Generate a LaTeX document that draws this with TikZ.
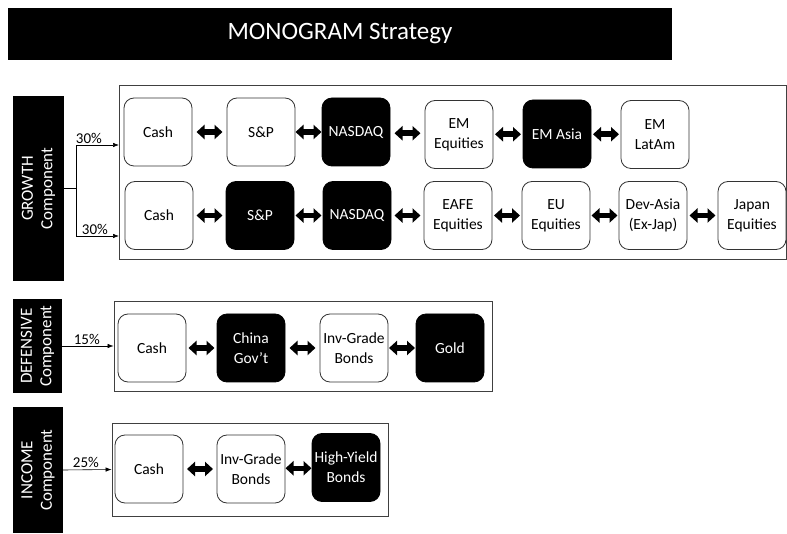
\documentclass[tikz,border=0pt]{standalone}
\usepackage{fontspec}
\setmainfont{Carlito}
\usetikzlibrary{arrows.meta,calc}
\begin{document}
\begin{tikzpicture}[x=1pt,y=-1pt,
 wbox/.style={draw=black!80, line width=0.8pt, rounded corners=10pt, fill=white, minimum width=68pt, minimum height=68pt, align=center, font=\fontsize{15.5}{20}\selectfont, inner sep=1pt},
 bbox/.style={wbox, fill=black, draw=black, text=white},
 comp/.style={fill=black, text=white, rotate=90, align=center, font=\fontsize{17}{19.5}\selectfont, inner sep=0pt},
 frame/.style={draw=black!75, line width=0.9pt, inner sep=0pt},
 dbl/.style={line width=5.5pt, {Triangle[length=8pt,width=14pt]}-{Triangle[length=8pt,width=14pt]}},
 feed/.style={line width=0.6pt, -{Latex[length=6pt,width=4.5pt]}},
 pct/.style={font=\fontsize{15}{17}\selectfont, anchor=south, inner sep=1.5pt}
]
\useasboundingbox (0,0) rectangle (787,534);
\newcommand\dar[2]{\draw[dbl] ($(#1.east)!0.5!(#2.west)$) +(-13,0) -- +(13,0);}

% title
\node[fill=black, text=white, minimum width=664pt, minimum height=52pt, inner sep=0pt, font=\fontsize{25}{28}\selectfont] (title) at (340,34) {MONOGRAM Strategy};

% component labels
\node[comp, minimum width=185pt, minimum height=51pt] (g) at (38.5,188.5) {GROWTH\\Component};
\node[comp, minimum width=94pt, minimum height=49pt] (d) at (37.5,346) {DEFENSIVE\\Component};
\node[comp, minimum width=126pt, minimum height=50pt] (i) at (38,470) {INCOME\\Component};

% frames
\node[frame, minimum width=667pt, minimum height=174pt] (gf) at (452.5,172) {};
\node[frame, minimum width=378pt, minimum height=90pt] (df) at (303,346) {};
\node[frame, minimum width=276pt, minimum height=93pt] (if) at (250,469.5) {};

% feeds
\coordinate (gsplit) at (76,188.5);
\coordinate (gin1) at (119,145);
\coordinate (gin2) at (119,236);
\draw[line width=0.6pt] (g.south) -- (gsplit);
\draw[feed] (gsplit) |- (gin1) node[pct, pos=0.65] {30\%};
\draw[feed] (gsplit) |- (gin2) node[pct, pos=0.72] {30\%};
\draw[feed] (d.south) -- (df.west) node[pct, pos=0.48] {15\%};
\draw[feed] (i.south) -- (if.west) node[pct, pos=0.47] {25\%};

% growth row 1
\node[wbox] (c1) at (158,132) {Cash};
\node[wbox] (s1) at (261,132) {S\&P};
\node[bbox] (n1) at (356,132) {NASDAQ};
\node[wbox] (em) at (459,134.5) {EM\\Equities};
\node[bbox] (ea) at (557,134) {EM Asia};
\node[wbox] (el) at (655,134.5) {EM\\LatAm};
\dar{c1}{s1}
\dar{s1}{n1}
\dar{n1}{em}
\dar{em}{ea}
\dar{ea}{el}

% growth row 2
\node[wbox] (c2) at (159,215.5) {Cash};
\node[bbox] (s2) at (260,215.5) {S\&P};
\node[bbox] (n2) at (357,215.5) {NASDAQ};
\node[wbox] (ef) at (458,215.5) {EAFE\\Equities};
\node[wbox] (eu) at (556,215.5) {EU\\Equities};
\node[wbox] (da) at (653,215.5) {Dev-Asia\\(Ex-Jap)};
\node[wbox] (jp) at (752,215.5) {Japan\\Equities};
\dar{c2}{s2}
\dar{s2}{n2}
\dar{n2}{ef}
\dar{ef}{eu}
\dar{eu}{da}
\dar{da}{jp}

% defensive
\node[wbox] (c3) at (152,348) {Cash};
\node[bbox] (cg) at (251,348) {China\\Gov't};
\node[wbox] (ig) at (354,348) {Inv-Grade\\Bonds};
\node[bbox] (go) at (450,348) {Gold};
\dar{c3}{cg}
\dar{cg}{ig}
\dar{ig}{go}

% income
\node[wbox] (c4) at (149,469) {Cash};
\node[wbox] (ig2) at (251,469) {Inv-Grade\\Bonds};
\node[bbox] (hy) at (346,467.5) {High-Yield\\Bonds};
\dar{c4}{ig2}
\dar{ig2}{hy}
\end{tikzpicture}
\end{document}
